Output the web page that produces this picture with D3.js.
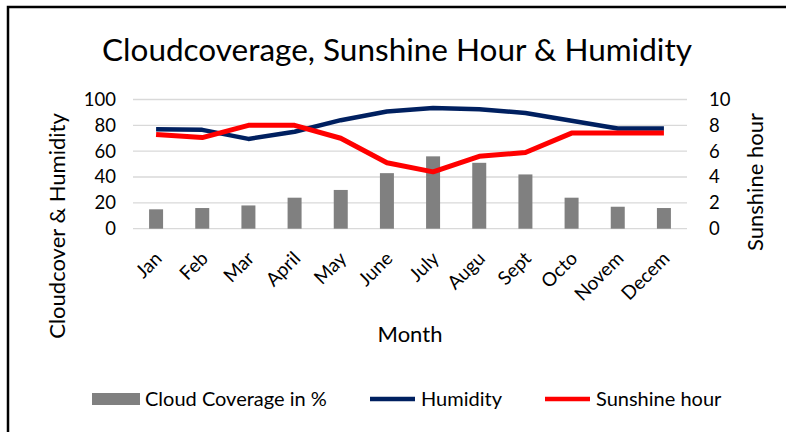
<!DOCTYPE html>
<html lang="en">
<head>
<meta charset="utf-8">
<title>Cloudcoverage, Sunshine Hour & Humidity</title>
<script src="https://d3js.org/d3.v7.min.js"></script>
<style>
  body { margin: 0; background: #fff; font-family: Lato, 'Open Sans', sans-serif; }
  text { fill: #000; }
</style>
</head>
<body>
<div id="chart"></div>
<script>
// data
var months = ["Jan", "Feb", "Mar", "April", "May", "June", "July", "Augu", "Sept", "Octo", "Novem", "Decem"];
var cloud = [15, 16, 18, 24, 30, 43, 56, 51, 42, 24, 17, 16];
var humidity = [77, 76.5, 69.5, 75, 84, 90.7, 93.5, 92.5, 89.5, 83.5, 77.5, 77.5];
var sunshine = [7.3, 7.05, 8, 8, 7, 5.1, 4.4, 5.6, 5.9, 7.4, 7.4, 7.4];
var leftTicks = [0, 20, 40, 60, 80, 100];
var rightTicks = [0, 2, 4, 6, 8, 10];

var W = 786, H = 432;
var svg = d3.select("#chart").append("svg").attr("width", W).attr("height", H);

// chart frame (only left and top edges show in the crop)
svg.append("path").attr("d", "M8,432 V7 H786")
    .attr("fill", "none").attr("stroke", "#000").attr("stroke-width", 2.5);

var x = d3.scaleBand().domain(months).range([133, 687]);
var yL = d3.scaleLinear().domain([0, 100]).range([228.7, 99.5]);
var yR = d3.scaleLinear().domain([0, 10]).range([228.7, 99.5]);

// gridlines
svg.append("g").selectAll("line").data(leftTicks).join("line")
    .attr("x1", 133).attr("x2", 687)
    .attr("y1", d => yL(d)).attr("y2", d => yL(d))
    .attr("stroke", "#d9d9d9").attr("stroke-width", 1.3);

// bars
var bw = 14;
svg.append("g").selectAll("rect").data(cloud).join("rect")
    .attr("x", (d, i) => x(months[i]) + x.bandwidth() / 2 - bw / 2)
    .attr("width", bw)
    .attr("y", d => yL(d))
    .attr("height", d => yL(0) - yL(d))
    .attr("fill", "#808080");

var cx = (d, i) => x(months[i]) + x.bandwidth() / 2;

svg.append("path").datum(humidity)
    .attr("fill", "none").attr("stroke", "#002060").attr("stroke-width", 4.5)
    .attr("stroke-linejoin", "round")
    .attr("d", d3.line().x(cx).y(d => yL(d)));

svg.append("path").datum(sunshine)
    .attr("fill", "none").attr("stroke", "#ff0000").attr("stroke-width", 5)
    .attr("stroke-linejoin", "round")
    .attr("d", d3.line().x(cx).y(d => yR(d)));

// axes
var axL = svg.append("g").attr("transform", "translate(116,0)")
    .call(d3.axisLeft(yL).tickValues(leftTicks).tickSize(0).tickPadding(0));
var axR = svg.append("g").attr("transform", "translate(709,0)")
    .call(d3.axisRight(yR).tickValues(rightTicks).tickSize(0).tickPadding(0));
[axL, axR].forEach(a => {
  a.select(".domain").remove();
  a.selectAll("text").attr("font-size", 18.5).attr("font-family", "Lato, sans-serif").attr("fill", "#000");
});

var axX = svg.append("g").attr("transform", "translate(0,228.7)")
    .call(d3.axisBottom(x).tickSize(0).tickPadding(0));
axX.select(".domain").remove();
axX.selectAll("text")
    .attr("font-size", 19).attr("font-family", "Lato, sans-serif").attr("fill", "#000")
    .attr("text-anchor", "end")
    .attr("dy", null).attr("y", 0)
    .attr("transform", "translate(7,31) rotate(-45)");

// titles
svg.append("text").attr("x", 397).attr("y", 61).attr("text-anchor", "middle")
    .attr("font-size", 31.5).text("Cloudcoverage, Sunshine Hour & Humidity");
svg.append("text").attr("x", 410).attr("y", 342).attr("text-anchor", "middle")
    .attr("font-size", 22).text("Month");
svg.append("text").attr("transform", "translate(65,226) rotate(-90)").attr("text-anchor", "middle")
    .attr("font-size", 22).text("Cloudcover & Humidity");
svg.append("text").attr("transform", "translate(763,182) rotate(-90)").attr("text-anchor", "middle")
    .attr("font-size", 22).text("Sunshine hour");

// legend
var legend = [
  {name: "Cloud Coverage in %", kind: "bar", color: "#808080", x: 92},
  {name: "Humidity", kind: "line", color: "#002060", x: 370},
  {name: "Sunshine hour", kind: "line", color: "#ff0000", x: 545}
];
var lg = svg.append("g").selectAll("g").data(legend).join("g")
    .attr("transform", d => "translate(" + d.x + ",399)");
lg.filter(d => d.kind === "bar").append("rect")
    .attr("x", 0).attr("y", -6).attr("width", 48).attr("height", 12).attr("fill", d => d.color);
lg.filter(d => d.kind === "line").append("line")
    .attr("x1", 0).attr("x2", 45).attr("stroke", d => d.color).attr("stroke-width", 4.5);
lg.append("text").attr("x", d => d.kind === "bar" ? 53 : 51).attr("dy", "0.35em")
    .attr("font-size", 20).text(d => d.name);
</script>
</body>
</html>
